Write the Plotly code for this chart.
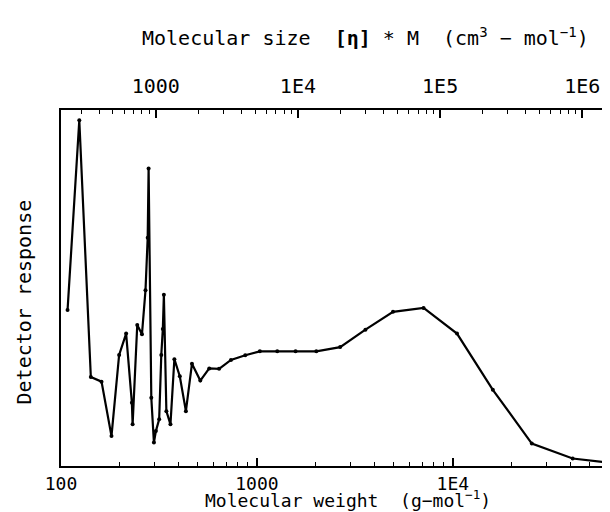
import plotly.graph_objects as go

# ---- data ----
mol_weight = [108, 124, 142, 161, 181, 198, 215, 230, 232, 245, 259, 270, 277, 280,
              289, 298, 305, 317, 325, 331, 335, 345, 362, 379, 404, 434, 466, 514,
              571, 641, 737, 872, 1035, 1270, 1575, 2010, 2660, 3580, 4950, 7090,
              10500, 16000, 25300, 40900, 68000]
response = [0.438, 0.971, 0.250, 0.237, 0.084, 0.312, 0.372, 0.178, 0.117, 0.396,
            0.370, 0.494, 0.641, 0.836, 0.192, 0.066, 0.098, 0.131, 0.312, 0.385,
            0.481, 0.154, 0.117, 0.300, 0.252, 0.154, 0.287, 0.240, 0.274, 0.273,
            0.298, 0.311, 0.322, 0.322, 0.322, 0.322, 0.334, 0.383, 0.433, 0.444,
            0.372, 0.214, 0.063, 0.021, 0.007]

bottom_tickvals = [100, 1000, 10000]
bottom_ticktext = ["100", "1000", "1E4"]
top_tickvals = [1000, 10000, 100000, 1000000]
top_ticktext = ["1000", "1E4", "1E5", "1E6"]


def minor_vals(lo_exp, hi_exp):
    return [m * 10 ** e for e in range(lo_exp, hi_exp + 1) for m in range(2, 10)]


FONT = "DejaVu Sans Mono"
FS = 20
FS_BOTTOM = 18

fig = go.Figure()
fig.add_trace(go.Scatter(
    x=mol_weight, y=response, mode="lines+markers",
    line=dict(color="black", width=2.2),
    marker=dict(color="black", size=4),
    xaxis="x", yaxis="y", showlegend=False, hoverinfo="skip"))
# invisible trace to activate the top (molecular size) axis
fig.add_trace(go.Scatter(
    x=[1000, 1000000], y=[0, 0], mode="markers",
    marker=dict(opacity=0), xaxis="x2", yaxis="y",
    showlegend=False, hoverinfo="skip"))

axis_common = dict(
    type="log", showline=True, linecolor="black", linewidth=2,
    ticks="inside", ticklen=8, tickwidth=1.5, tickcolor="black",
    tickmode="array", showgrid=False, zeroline=False,
)

fig.update_layout(
    width=610, height=512,
    margin=dict(l=53, r=0, t=102, b=54),
    paper_bgcolor="white", plot_bgcolor="white",
    font=dict(family=FONT, color="black"),
    xaxis=dict(
        **axis_common, range=[2, 4.843], ticklabelstandoff=0,
        tickfont=dict(family=FONT, size=FS_BOTTOM, color="black"),
        tickvals=bottom_tickvals, ticktext=bottom_ticktext,
        minor=dict(tickmode="array", tickvals=minor_vals(2, 4), ticks="inside",
                   ticklen=4, tickwidth=1, tickcolor="black", showgrid=False),
    ),
    xaxis2=dict(
        **axis_common, range=[2.334, 6.251], overlaying="x", side="top", anchor="y",
        ticklabelstandoff=7,
        tickfont=dict(family=FONT, size=FS, color="black"),
        tickvals=top_tickvals, ticktext=top_ticktext,
        minor=dict(tickmode="array", tickvals=minor_vals(2, 6), ticks="inside",
                   ticklen=4, tickwidth=1, tickcolor="black", showgrid=False),
    ),
    yaxis=dict(range=[0, 1], showline=True, linecolor="black", linewidth=2,
               showticklabels=False, ticks="", showgrid=False, zeroline=False),
    annotations=[
        dict(text="Molecular weight  (g\u2212mol<sup>\u22121</sup>)",
             xref="paper", yref="paper", x=0.515, y=-0.093,
             xanchor="center", yanchor="middle", showarrow=False,
             font=dict(family=FONT, size=FS_BOTTOM, color="black")),
        dict(text="Molecular size  <b>[\u03b7]</b> * M  (cm<sup>3</sup> \u2212 mol<sup>\u22121</sup>)",
             xref="paper", yref="paper", x=0.546, y=1.205,
             xanchor="center", yanchor="middle", showarrow=False,
             font=dict(family=FONT, size=FS, color="black")),
        dict(text="Detector response", textangle=-90,
             xref="paper", yref="paper", x=-0.066, y=0.46,
             xanchor="center", yanchor="middle", showarrow=False,
             font=dict(family=FONT, size=FS, color="black")),
    ],
)

fig.write_html("out.html")
